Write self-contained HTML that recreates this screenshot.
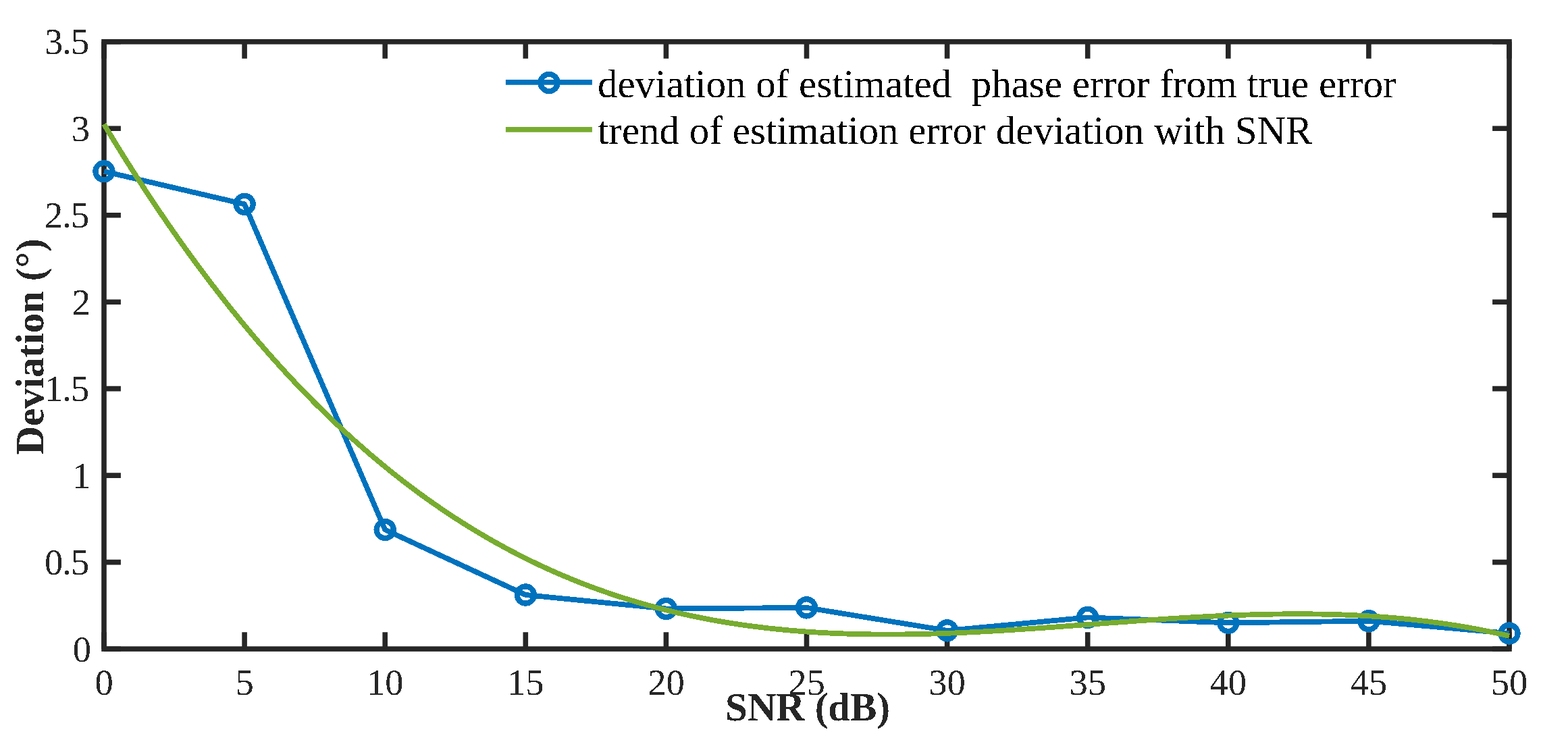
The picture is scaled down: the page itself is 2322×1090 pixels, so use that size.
<!DOCTYPE html>
<html><head><meta charset="utf-8"><title>Deviation vs SNR</title>
<style>
html,body{margin:0;padding:0;background:#fff;}
body{width:2322px;height:1090px;overflow:hidden;}
svg{display:block;}
text{font-family:"Liberation Serif","Times New Roman",serif;font-kerning:none;white-space:pre;}
</style></head><body>
<svg width="2322" height="1090" viewBox="0 0 2322 1090">
<defs><filter id="al" x="-0.05" y="-0.05" width="1.1" height="1.1" color-interpolation-filters="sRGB"><feComponentTransfer><feFuncA type="discrete" tableValues="0 1"/></feComponentTransfer></filter></defs>
<rect width="2322" height="1090" fill="#fff"/>
<g stroke="#262626" stroke-width="7.6" fill="none" stroke-linecap="butt">
<path d="M154.00 961.05V936.15M154.00 61.80V86.70M362.10 961.05V936.15M362.10 61.80V86.70M570.20 961.05V936.15M570.20 61.80V86.70M778.30 961.05V936.15M778.30 61.80V86.70M986.40 961.05V936.15M986.40 61.80V86.70M1194.50 961.05V936.15M1194.50 61.80V86.70M1402.60 961.05V936.15M1402.60 61.80V86.70M1610.70 961.05V936.15M1610.70 61.80V86.70M1818.80 961.05V936.15M1818.80 61.80V86.70M2026.90 961.05V936.15M2026.90 61.80V86.70M2235.00 961.05V936.15M2235.00 61.80V86.70M154.00 961.05H178.90M2235.00 961.05H2210.10M154.00 832.59H178.90M2235.00 832.59H2210.10M154.00 704.12H178.90M2235.00 704.12H2210.10M154.00 575.66H178.90M2235.00 575.66H2210.10M154.00 447.19H178.90M2235.00 447.19H2210.10M154.00 318.73H178.90M2235.00 318.73H2210.10M154.00 190.26H178.90M2235.00 190.26H2210.10M154.00 61.80H178.90M2235.00 61.80H2210.10"/>
<rect x="154.0" y="61.8" width="2081.00" height="899.25" stroke-linejoin="miter"/>
</g>
<g fill="#262626" font-size="54.5" filter="url(#al)">
<g text-anchor="end"><text x="135.0" y="979.6">0</text><text x="131.2" y="851.2" letter-spacing="-1">0.5</text><text x="134.3" y="722.7">1</text><text x="131.2" y="594.3" letter-spacing="-1">1.5</text><text x="134.1" y="465.8">2</text><text x="131.2" y="337.3" letter-spacing="-1">2.5</text><text x="133.0" y="208.9">3</text><text x="131.2" y="80.4" letter-spacing="-1">3.5</text></g>
<g text-anchor="middle"><text x="154.0" y="1028.8">0</text><text x="362.1" y="1028.8">5</text><text x="570.2" y="1028.8">10</text><text x="778.3" y="1028.8">15</text><text x="986.4" y="1028.8">20</text><text x="1194.5" y="1028.8">25</text><text x="1402.6" y="1028.8">30</text><text x="1610.7" y="1028.8">35</text><text x="1818.8" y="1028.8">40</text><text x="2026.9" y="1028.8">45</text><text x="2235.0" y="1028.8">50</text></g>
</g>
<g fill="#262626" font-size="59" font-weight="bold" text-anchor="middle" filter="url(#al)">
<text x="1196" y="1066.8">SNR (dB)</text>
<text transform="translate(64.2 513.5) rotate(-90)">Deviation (°)</text>
</g>
<polyline shape-rendering="crispEdges" points="154.0,253.8 362.1,302.4 570.2,784.5 778.3,881.0 986.4,901.5 1194.5,899.9 1402.6,933.9 1610.7,914.4 1818.8,922.4 2026.9,919.7 2235.0,938.0" fill="none" stroke="#0072BD" stroke-width="7.8" stroke-linejoin="round"/>
<g fill="none" stroke="#0072BD" stroke-width="8.2" shape-rendering="crispEdges"><circle cx="154.0" cy="253.8" r="12.6"/><circle cx="362.1" cy="302.4" r="12.6"/><circle cx="570.2" cy="784.5" r="12.6"/><circle cx="778.3" cy="881.0" r="12.6"/><circle cx="986.4" cy="901.5" r="12.6"/><circle cx="1194.5" cy="899.9" r="12.6"/><circle cx="1402.6" cy="933.9" r="12.6"/><circle cx="1610.7" cy="914.4" r="12.6"/><circle cx="1818.8" cy="922.4" r="12.6"/><circle cx="2026.9" cy="919.7" r="12.6"/><circle cx="2235.0" cy="938.0" r="12.6"/></g>
<polyline shape-rendering="crispEdges" points="154.00,184.02 159.20,192.66 164.41,201.23 169.61,209.74 174.81,218.19 180.01,226.58 185.22,234.90 190.42,243.16 195.62,251.35 200.82,259.48 206.03,267.55 211.23,275.56 216.43,283.51 221.63,291.39 226.83,299.22 232.04,306.98 237.24,314.68 242.44,322.32 247.64,329.90 252.85,337.42 258.05,344.88 263.25,352.28 268.45,359.62 273.66,366.90 278.86,374.12 284.06,381.29 289.26,388.39 294.47,395.44 299.67,402.42 304.87,409.35 310.07,416.22 315.28,423.04 320.48,429.79 325.68,436.49 330.88,443.14 336.09,449.72 341.29,456.25 346.49,462.73 351.69,469.15 356.90,475.51 362.10,481.81 367.30,488.07 372.50,494.26 377.71,500.40 382.91,506.49 388.11,512.52 393.31,518.50 398.52,524.43 403.72,530.30 408.92,536.12 414.12,541.88 419.33,547.59 424.53,553.25 429.73,558.86 434.94,564.41 440.14,569.91 445.34,575.36 450.54,580.76 455.75,586.11 460.95,591.40 466.15,596.65 471.35,601.84 476.56,606.99 481.76,612.08 486.96,617.13 492.16,622.12 497.36,627.06 502.57,631.96 507.77,636.81 512.97,641.60 518.17,646.35 523.38,651.05 528.58,655.71 533.78,660.31 538.98,664.87 544.19,669.38 549.39,673.84 554.59,678.25 559.79,682.62 565.00,686.94 570.20,691.22 575.40,695.45 580.61,699.63 585.81,703.77 591.01,707.86 596.21,711.91 601.41,715.91 606.62,719.87 611.82,723.78 617.02,727.65 622.22,731.47 627.43,735.25 632.63,738.99 637.83,742.69 643.03,746.34 648.24,749.94 653.44,753.51 658.64,757.03 663.85,760.51 669.05,763.95 674.25,767.35 679.45,770.70 684.65,774.02 689.86,777.29 695.06,780.52 700.26,783.72 705.46,786.87 710.67,789.98 715.87,793.05 721.07,796.08 726.27,799.07 731.48,802.03 736.68,804.94 741.88,807.82 747.08,810.65 752.29,813.45 757.49,816.21 762.69,818.93 767.89,821.62 773.10,824.26 778.30,826.88 783.50,829.45 788.70,831.98 793.91,834.48 799.11,836.95 804.31,839.38 809.51,841.77 814.72,844.12 819.92,846.45 825.12,848.73 830.32,850.98 835.53,853.20 840.73,855.38 845.93,857.53 851.13,859.64 856.34,861.72 861.54,863.77 866.74,865.78 871.94,867.76 877.15,869.71 882.35,871.63 887.55,873.51 892.75,875.36 897.96,877.18 903.16,878.96 908.36,880.72 913.56,882.44 918.77,884.14 923.97,885.80 929.17,887.43 934.38,889.03 939.58,890.60 944.78,892.15 949.98,893.66 955.18,895.14 960.39,896.59 965.59,898.02 970.79,899.41 976.00,900.78 981.20,902.12 986.40,903.43 991.60,904.72 996.80,905.97 1002.01,907.20 1007.21,908.40 1012.41,909.58 1017.61,910.72 1022.82,911.85 1028.02,912.94 1033.22,914.01 1038.42,915.05 1043.63,916.07 1048.83,917.06 1054.03,918.03 1059.23,918.98 1064.44,919.89 1069.64,920.79 1074.84,921.66 1080.05,922.50 1085.25,923.33 1090.45,924.13 1095.65,924.90 1100.86,925.65 1106.06,926.38 1111.26,927.09 1116.46,927.78 1121.66,928.44 1126.87,929.08 1132.07,929.70 1137.27,930.30 1142.47,930.88 1147.68,931.43 1152.88,931.97 1158.08,932.48 1163.28,932.98 1168.49,933.45 1173.69,933.91 1178.89,934.34 1184.10,934.76 1189.30,935.16 1194.50,935.54 1199.70,935.90 1204.90,936.24 1210.11,936.56 1215.31,936.87 1220.51,937.15 1225.71,937.42 1230.92,937.68 1236.12,937.91 1241.32,938.13 1246.52,938.33 1251.73,938.52 1256.93,938.69 1262.13,938.84 1267.34,938.98 1272.54,939.10 1277.74,939.21 1282.94,939.30 1288.14,939.38 1293.35,939.45 1298.55,939.49 1303.75,939.53 1308.95,939.55 1314.16,939.56 1319.36,939.55 1324.56,939.53 1329.76,939.50 1334.97,939.46 1340.17,939.40 1345.37,939.33 1350.57,939.25 1355.78,939.16 1360.98,939.05 1366.18,938.94 1371.38,938.81 1376.59,938.68 1381.79,938.53 1386.99,938.37 1392.19,938.20 1397.40,938.02 1402.60,937.83 1407.80,937.63 1413.00,937.43 1418.21,937.21 1423.41,936.99 1428.61,936.75 1433.81,936.51 1439.02,936.26 1444.22,936.00 1449.42,935.74 1454.62,935.47 1459.83,935.19 1465.03,934.90 1470.23,934.61 1475.43,934.30 1480.64,934.00 1485.84,933.69 1491.04,933.37 1496.24,933.04 1501.45,932.71 1506.65,932.38 1511.85,932.04 1517.05,931.70 1522.26,931.35 1527.46,931.00 1532.66,930.64 1537.87,930.28 1543.07,929.92 1548.27,929.55 1553.47,929.18 1558.67,928.80 1563.88,928.43 1569.08,928.05 1574.28,927.67 1579.48,927.29 1584.69,926.90 1589.89,926.52 1595.09,926.13 1600.29,925.75 1605.50,925.36 1610.70,924.97 1615.90,924.58 1621.11,924.19 1626.31,923.80 1631.51,923.41 1636.71,923.02 1641.91,922.64 1647.12,922.25 1652.32,921.87 1657.52,921.48 1662.72,921.10 1667.93,920.72 1673.13,920.34 1678.33,919.97 1683.53,919.59 1688.74,919.22 1693.94,918.86 1699.14,918.50 1704.34,918.14 1709.55,917.78 1714.75,917.43 1719.95,917.08 1725.15,916.74 1730.36,916.40 1735.56,916.07 1740.76,915.74 1745.96,915.41 1751.17,915.10 1756.37,914.79 1761.57,914.48 1766.77,914.18 1771.98,913.89 1777.18,913.60 1782.38,913.32 1787.58,913.05 1792.79,912.79 1797.99,912.53 1803.19,912.28 1808.39,912.04 1813.60,911.81 1818.80,911.59 1824.00,911.38 1829.20,911.17 1834.41,910.97 1839.61,910.79 1844.81,910.61 1850.01,910.44 1855.22,910.29 1860.42,910.14 1865.62,910.01 1870.82,909.88 1876.03,909.77 1881.23,909.67 1886.43,909.57 1891.63,909.50 1896.84,909.43 1902.04,909.37 1907.24,909.33 1912.44,909.30 1917.65,909.29 1922.85,909.28 1928.05,909.29 1933.25,909.32 1938.46,909.36 1943.66,909.41 1948.86,909.47 1954.06,909.56 1959.27,909.65 1964.47,909.76 1969.67,909.89 1974.88,910.03 1980.08,910.19 1985.28,910.36 1990.48,910.55 1995.68,910.75 2000.89,910.98 2006.09,911.21 2011.29,911.47 2016.49,911.74 2021.70,912.03 2026.90,912.34 2032.10,912.67 2037.30,913.01 2042.51,913.38 2047.71,913.76 2052.91,914.16 2058.11,914.58 2063.32,915.02 2068.52,915.48 2073.72,915.96 2078.93,916.46 2084.13,916.97 2089.33,917.51 2094.53,918.07 2099.73,918.66 2104.94,919.26 2110.14,919.88 2115.34,920.53 2120.55,921.19 2125.75,921.88 2130.95,922.60 2136.15,923.33 2141.35,924.09 2146.56,924.87 2151.76,925.67 2156.96,926.50 2162.16,927.35 2167.37,928.22 2172.57,929.12 2177.77,930.04 2182.97,930.99 2188.18,931.96 2193.38,932.96 2198.58,933.99 2203.78,935.03 2208.99,936.11 2214.19,937.21 2219.39,938.34 2224.59,939.49 2229.80,940.67 2235.00,941.87" fill="none" stroke="#77AC30" stroke-width="7.8" stroke-linejoin="round"/>
<g>
<path d="M748.9 121.9H876.9" stroke="#0072BD" stroke-width="7.8"/>
<circle cx="813.1" cy="122.5" r="12.6" fill="none" stroke="#0072BD" stroke-width="8.2" shape-rendering="crispEdges"/>
<path d="M748.9 191.9H876.9" stroke="#77AC30" stroke-width="7.6"/>
</g>
<g fill="#000" font-size="59" filter="url(#al)">
<text x="884.9" y="144.4">deviation of estimated  phase error from true error</text>
<text x="884.9" y="213.2">trend of estimation error deviation with SNR</text>
</g>
</svg>
</body></html>
